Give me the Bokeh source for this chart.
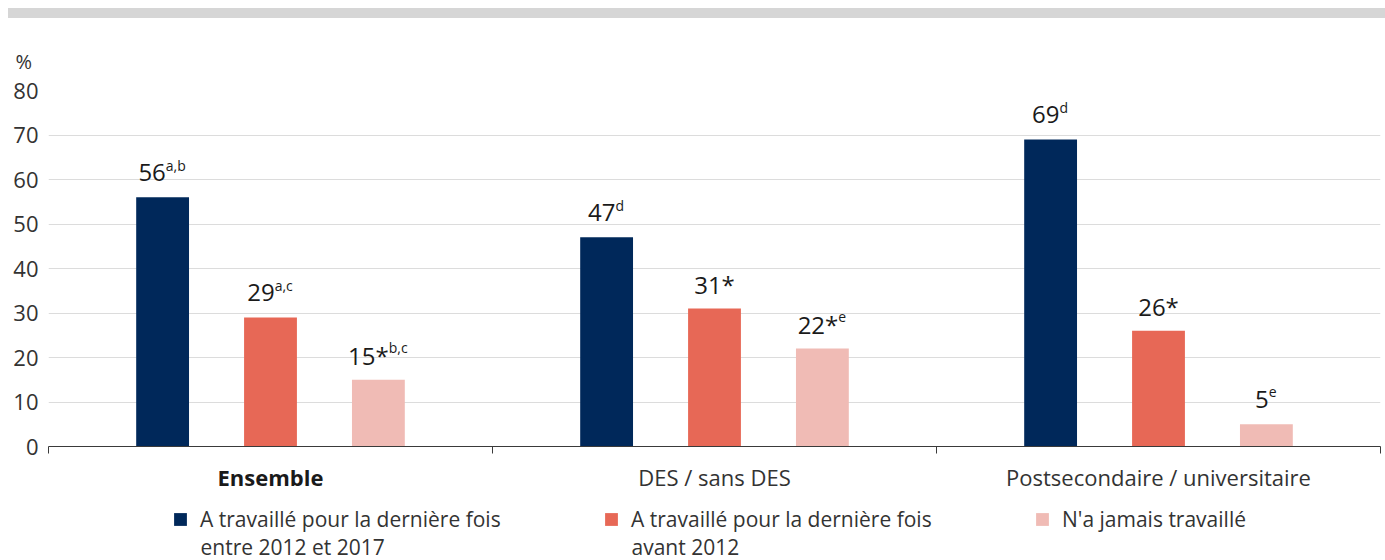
from bokeh.plotting import figure
from bokeh.models import (Range1d, FixedTicker, Legend, LegendItem,
                          ColumnDataSource, Div)
from bokeh.layouts import column
from bokeh.core.properties import value
from bokeh.embed import file_html
from bokeh.resources import INLINE

# ---------------- data ----------------
groups = ["Ensemble", "DES / sans DES", "Postsecondaire / universitaire"]
group_styles = ["bold", "normal", "normal"]
series_line1 = [
    "A travaillé pour la dernière fois",
    "A travaillé pour la dernière fois",
    "N'a jamais travaillé",
]
series_line2 = ["entre 2012 et 2017", "avant 2012"]
recent = [56, 47, 69]
before = [29, 31, 26]
never = [15, 22, 5]
recent_txt = ["56", "47", "69"]
recent_sup = ["a,b", "d", "d"]
before_txt = ["29", "31*", "26*"]
before_sup = ["a,c", "", ""]
never_txt = ["15*", "22*", "5"]
never_sup = ["b,c", "e", "e"]
y_ticks = [0, 10, 20, 30, 40, 50, 60, 70, 80]
colors = ["#00285a", "#e76856", "#f0bbb5"]

FONT = "Open Sans"
MAIN_FS = 24
SUP_FS = 14
W_MAIN = {c: 0.572 for c in "0123456789"}
W_MAIN["*"] = 0.551
W_SUP = {"a": 0.556, "b": 0.613, "c": 0.48, "d": 0.613, "e": 0.561, ",": 0.26}


def tw(s, table, fs):
    return sum(table.get(c, 0.55) for c in s) * fs


FIG_W = 1377
BORDER_L, BORDER_R = 40, 5
FRAME_W = FIG_W - BORDER_L - BORDER_R
x_range = Range1d(0, 3)
PX_PER_UNIT = FRAME_W / 3.0

# ---------------- main chart ----------------
p = figure(width=FIG_W, height=442, output_backend="svg", toolbar_location=None,
           x_range=x_range, y_range=Range1d(0, 80))
p.min_border_left = BORDER_L
p.min_border_right = BORDER_R
p.min_border_top = 72
p.min_border_bottom = 14
p.outline_line_color = None
p.background_fill_color = "white"
p.border_fill_color = "white"

p.title.text = "%"
p.title.align = "left"
p.title.offset = -33
p.title.text_font = FONT
p.title.text_font_size = "20px"
p.title.text_font_style = "normal"
p.title.text_color = "#333333"
p.title.standoff = 31

offsets = [-0.243, 0.0, 0.243]
bar_w = 0.119
all_vals = [recent, before, never]
all_txt = [recent_txt, before_txt, never_txt]
all_sup = [recent_sup, before_sup, never_sup]
sources = []
for k in range(3):
    xs = [i + 0.5 + offsets[k] for i in range(len(groups))]
    main_w = [tw(t, W_MAIN, MAIN_FS) for t in all_txt[k]]
    sup_w = [tw(s, W_SUP, SUP_FS) + (1 if s else 0) for s in all_sup[k]]
    xo = [(a - b) / 2 for a, b in zip(main_w, sup_w)]
    src = ColumnDataSource(dict(x=xs, top=all_vals[k], main=all_txt[k], xo=xo))
    sources.append(src)
    p.vbar(x="x", top="top", width=bar_w, bottom=0, source=src,
           fill_color=colors[k], line_color=None)
    p.text(x="x", y="top", text="main", x_offset="xo", y_offset=-24.5,
           source=src, text_align="right", text_baseline="alphabetic",
           text_font=value(FONT), text_font_size=f"{MAIN_FS}px",
           text_color="#1a1a1a")
    keep = [j for j, s in enumerate(all_sup[k]) if s]
    if keep:
        ssrc = ColumnDataSource(dict(x=[xs[j] for j in keep],
                                     top=[all_vals[k][j] for j in keep],
                                     sup=[all_sup[k][j] for j in keep],
                                     xo=[xo[j] for j in keep]))
        p.text(x="x", y="top", text="sup", x_offset="xo", y_offset=-32,
               source=ssrc, text_align="left", text_baseline="alphabetic",
               text_font=value(FONT), text_font_size=f"{SUP_FS}px",
               text_color="#1a1a1a")

# x axis: boundary ticks only (as minor ticks, so no empty labels)
p.xaxis.ticker = FixedTicker(ticks=[], minor_ticks=[0, 1, 2, 3])
p.xaxis.axis_line_color = "#3a3a3a"
p.xaxis.major_tick_line_color = None
p.xaxis.minor_tick_line_color = "#3a3a3a"
p.xaxis.minor_tick_out = 7
p.xaxis.minor_tick_in = 0
p.xgrid.visible = False

p.yaxis.ticker = FixedTicker(ticks=y_ticks)
p.yaxis.axis_line_color = None
p.yaxis.major_tick_line_color = None
p.yaxis.minor_tick_line_color = None
p.yaxis.major_tick_out = 0
p.yaxis.major_label_standoff = 10
p.yaxis.major_label_text_font = FONT
p.yaxis.major_label_text_font_size = "22px"
p.yaxis.major_label_text_color = "#333333"
p.ygrid.grid_line_color = "#dcdcdc"
p.ygrid.grid_line_width = 1

# ---------------- group labels + legend strip ----------------
P2_H = 100
p2 = figure(width=FIG_W, height=P2_H, output_backend="svg", toolbar_location=None,
            x_range=x_range, y_range=Range1d(-P2_H, 0),
            x_axis_location=None, y_axis_location=None)
p2.min_border_left = BORDER_L
p2.min_border_right = BORDER_R
p2.min_border_top = 0
p2.min_border_bottom = 0
p2.outline_line_color = None
p2.xgrid.visible = False
p2.ygrid.visible = False

gsrc = ColumnDataSource(dict(x=[i + 0.5 for i in range(len(groups))],
                             y=[-1] * len(groups), text=groups,
                             style=group_styles,
                             color=["#1a1a1a", "#333333", "#333333"]))
p2.text(x="x", y="y", text="text", source=gsrc, text_align="center",
        text_baseline="top", text_font=value(FONT),
        text_font_size="22px", text_font_style="style", text_color="color")

# legend (first lines) — renderers reuse the bar data, out of this strip's range
LEG_X, GLYPH_W, STANDOFF, LABEL_W = 124, 16, 12, 403
legend_r = []
for k in range(3):
    legend_r.append(p2.vbar(x="x", top="top", bottom=0, width=bar_w,
                            source=sources[k], fill_color=colors[k],
                            line_color=None))
legend = Legend(items=[LegendItem(label=series_line1[k], renderers=[legend_r[k]])
                       for k in range(3)],
                orientation="horizontal", location=(LEG_X, 27),
                glyph_width=GLYPH_W, glyph_height=16, label_standoff=STANDOFF,
                label_width=LABEL_W, spacing=0, padding=0, margin=0,
                border_line_alpha=0, background_fill_alpha=0,
                label_text_font=FONT, label_text_font_size="21px",
                label_text_color="#333333")
p2.add_layout(legend, "center")

# second lines of the legend labels
pitch = GLYPH_W + STANDOFF + LABEL_W
l2src = ColumnDataSource(dict(
    x=[(LEG_X + GLYPH_W + STANDOFF + k * pitch) / PX_PER_UNIT
       for k in range(len(series_line2))],
    y=[-86] * len(series_line2), text=series_line2))
p2.text(x="x", y="y", text="text", source=l2src, text_align="left",
        text_baseline="alphabetic", text_font=value(FONT),
        text_font_size="21px", text_color="#333333")

band = Div(text="", width=FIG_W, height=10, margin=0,
           styles={"background-color": "#d6d6d6"})
layout = column(band, p, p2, spacing=0, margin=(8, 0, 0, 8))

open("out.html", "w").write(file_html(layout, INLINE))
